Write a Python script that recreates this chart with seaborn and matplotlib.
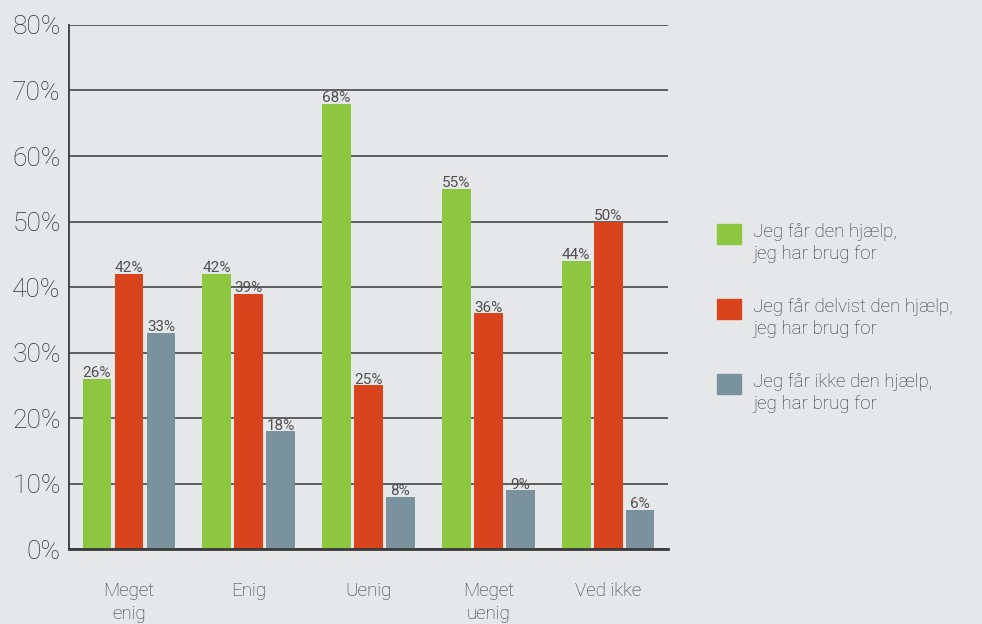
import pandas as pd
import numpy as np
import matplotlib.pyplot as plt
import matplotlib.patches as mpatches
from matplotlib.legend_handler import HandlerPatch
import seaborn as sns

# data
categories = ['Meget enig', 'Enig', 'Uenig', 'Meget uenig', 'Ved ikke']
tick_labels = ['Meget\nenig', 'Enig', 'Uenig', 'Meget\nuenig', 'Ved ikke']
series = ['Jeg får den hjælp,\njeg har brug for',
          'Jeg får delvist den hjælp,\njeg har brug for',
          'Jeg får ikke den hjælp,\njeg har brug for']
faar = [26, 42, 68, 55, 44]
delvist = [42, 39, 25, 36, 50]
ikke = [33, 18, 8, 9, 6]
colors = ['#8dc63f', '#d9441c', '#7a929e']

df = pd.DataFrame({
    'kategori': categories * 3,
    'serie': [series[0]] * 5 + [series[1]] * 5 + [series[2]] * 5,
    'pct': faar + delvist + ikke,
})

bg = '#e6e7e9'
txt = '#333333'
sns.set_style('white')
plt.rcParams['font.family'] = ['Roboto', 'DejaVu Sans']
plt.rcParams['font.weight'] = 'light'

fig = plt.figure(figsize=(9.82, 6.24), dpi=100, facecolor=bg)
ax = fig.add_axes([0.0703, 0.120, 0.610, 0.840])
ax.set_facecolor(bg)

sns.barplot(data=df, x='kategori', y='pct', hue='serie', palette=colors,
            width=0.8, gap=0.1, saturation=1, linewidth=0, ax=ax, legend=False)

for cont in ax.containers:
    ax.bar_label(cont, fmt='%d%%', padding=-1, fontsize=11, color='#505050',
                 fontweight='normal')

ax.set_ylim(0, 80)
ax.set_xlim(-0.5, 4.5)
ax.set_yticks(np.arange(0, 81, 10))
ax.set_yticklabels([f'{v}%' for v in range(0, 81, 10)], fontsize=19, color=txt)
ax.set_xticks(range(len(categories)))
ax.set_xticklabels(tick_labels, fontsize=13.5, color=txt, linespacing=1.3)
ax.tick_params(axis='x', length=0, pad=24)
ax.tick_params(axis='y', length=0, pad=6)
ax.set_xlabel('')
ax.set_ylabel('')

ax.yaxis.grid(True, color='#3a3a3a', linewidth=1.1)
ax.set_axisbelow(True)
for s in ['top', 'right']:
    ax.spines[s].set_visible(False)
ax.spines['left'].set_color('#3a3a3a')
ax.spines['left'].set_linewidth(1.3)
ax.spines['bottom'].set_color('#3a3a3a')
ax.spines['bottom'].set_linewidth(2)


def square_top(legend, orig_handle, xdescent, ydescent, width, height, fontsize):
    # put the square beside the first text line
    return mpatches.Rectangle((-xdescent, -ydescent + 7), width, height)


handles = [mpatches.Patch(color=c, label=l) for c, l in zip(colors, series)]
leg = ax.legend(handles=handles, loc='center left', bbox_to_anchor=(1.07, 0.441),
                frameon=False, fontsize=13.5, handlelength=1.25, handleheight=1.25,
                handletextpad=0.65, labelspacing=1.9, borderaxespad=0,
                handler_map={mpatches.Patch: HandlerPatch(patch_func=square_top)})
for t in leg.get_texts():
    t.set_color(txt)
    t.set_linespacing(1.25)

plt.savefig('out.png', dpi=100, facecolor=bg)
